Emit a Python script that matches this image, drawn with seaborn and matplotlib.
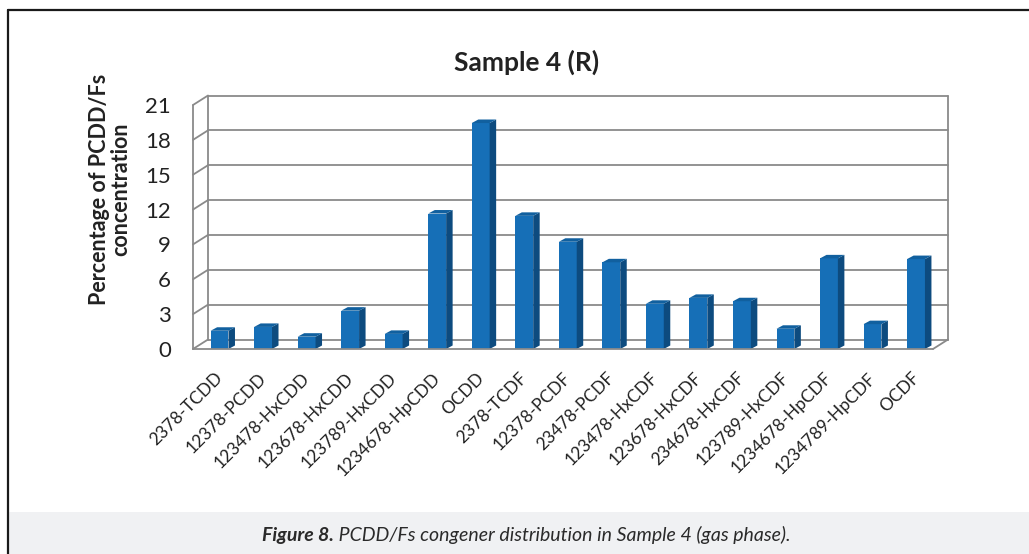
import matplotlib
matplotlib.use("Agg")
import matplotlib.pyplot as plt
import matplotlib.transforms as mtransforms
from matplotlib.patches import Polygon, Rectangle
from matplotlib.lines import Line2D
import seaborn as sns
import pandas as pd

categories = ["2378-TCDD", "12378-PCDD", "123478-HxCDD", "123678-HxCDD",
              "123789-HxCDD", "1234678-HpCDD", "OCDD", "2378-TCDF",
              "12378-PCDF", "23478-PCDF", "123478-HxCDF", "123678-HxCDF",
              "234678-HxCDF", "123789-HxCDF", "1234678-HpCDF",
              "1234789-HpCDF", "OCDF"]
values = [1.57, 1.9, 1.06, 3.3, 1.3, 11.66, 19.45, 11.46, 9.23, 7.46,
          3.89, 4.4, 4.11, 1.74, 7.8, 2.14, 7.74]
yticks = [0, 3, 6, 9, 12, 15, 18, 21]
title = "Sample 4 (R)"
ylabel = "Percentage of PCDD/Fs\nconcentration"
caption_bold = "Figure 8."
caption_rest = " PCDD/Fs congener distribution in Sample 4 (gas phase)."

sns.set_theme(style="white")
plt.rcParams["font.family"] = ["Lato", "DejaVu Sans"]

W, H = 1029, 554
fig = plt.figure(figsize=(W / 100, H / 100), dpi=100)
fig.patch.set_facecolor("white")

# caption band and frame
fig.patches.append(Rectangle((9 / W, 0), 1 - 9 / W, 42 / H, transform=fig.transFigure,
                             facecolor="#f0f1f3", edgecolor="none", zorder=0))
fig.add_artist(Line2D([8 / W, 8 / W], [0, 1 - 10 / H], transform=fig.transFigure,
                      color="#1a1a1a", lw=1.6))
fig.add_artist(Line2D([8 / W, 1], [1 - 10 / H, 1 - 10 / H], transform=fig.transFigure,
                      color="#1a1a1a", lw=1.6))

left, right, top, bottom = 193, 933, 105, 349
ax = fig.add_axes([left / W, 1 - bottom / H, (right - left) / W, (bottom - top) / H])
ax.set_facecolor("none")

df = pd.DataFrame({"cat": categories, "val": values})
sns.barplot(data=df, x="cat", y="val", color="#166fb7", saturation=1, width=0.41,
            ax=ax, zorder=3, edgecolor="none")

x0, x1 = -0.61, 16.39
ax.set_xlim(x0, x1)
ax.set_ylim(0, 21)
for s in ax.spines.values():
    s.set_visible(False)

# 3D-like frame
grid_c = "#8a8a8a"
dxw = 15 / ((right - left) / (x1 - x0))
dyw = 9.5 / ((bottom - top) / 21)
kw = dict(color=grid_c, lw=1.3, clip_on=False, zorder=1, solid_capstyle="round")
for v in yticks:
    ax.plot([x0 + dxw, x1 + dxw], [v + dyw, v + dyw], **kw)
    ax.plot([x0, x0 + dxw], [v, v + dyw], **kw)
ax.plot([x0, x0], [0, 21], **kw)
ax.plot([x0 + dxw, x0 + dxw], [dyw, 21 + dyw], **kw)
ax.plot([x1 + dxw, x1 + dxw], [dyw, 21 + dyw], **kw)
ax.plot([x0, x1], [0, 0], color=grid_c, lw=1.3, clip_on=False, zorder=4)
ax.plot([x1, x1 + dxw], [0, dyw], color=grid_c, lw=1.3, clip_on=False, zorder=4)

# bar sides and tops
bdx = 6.5 / ((right - left) / (x1 - x0))
bdy = 3.5 / ((bottom - top) / 21)
for p in list(ax.patches):
    bx, bw, bh = p.get_x(), p.get_width(), p.get_height()
    ax.add_patch(Polygon([(bx + bw, 0), (bx + bw + bdx, bdy), (bx + bw + bdx, bh + bdy),
                          (bx + bw, bh)], closed=True, facecolor="#0d4b7f",
                         edgecolor="none", zorder=3))
    ax.add_patch(Polygon([(bx, bh), (bx + bdx, bh + bdy), (bx + bw + bdx, bh + bdy),
                          (bx + bw, bh)], closed=True, facecolor="#11609f",
                         edgecolor="none", zorder=3))

ax.set_yticks(yticks)
ax.set_yticklabels([str(t) for t in yticks], fontsize=16, color="#222222")
ax.tick_params(axis="y", length=0, pad=16)
ax.set_xticks(range(len(categories)))
ax.set_xticklabels(categories, rotation=45, ha="right", rotation_mode="anchor",
                   fontsize=12.5, color="#222222")
ax.tick_params(axis="x", length=0, pad=15)
offset = mtransforms.ScaledTranslation(-5 / 100, 0, fig.dpi_scale_trans)
for lab in ax.get_xticklabels():
    lab.set_transform(lab.get_transform() + offset)
ax.set_xlabel("")
ax.set_ylabel("")

fig.text(110 / W, 1 - 189 / H, ylabel, rotation=90, ha="center", va="center",
         fontsize=15.5, fontweight="bold", color="#222222", linespacing=1.05)
fig.text(527 / W, 1 - 62 / H, title, ha="center", va="center", fontsize=19,
         fontweight="bold", color="#222222")

# caption
fig.canvas.draw()
r = fig.canvas.get_renderer()
t1 = fig.text(0, 1 - 535 / H, caption_bold, ha="left", va="center", fontsize=14,
              fontweight="bold", fontstyle="italic", color="#2a2a2a")
t2 = fig.text(0, 1 - 535 / H, caption_rest, ha="left", va="center", fontsize=14,
              fontstyle="italic", color="#2a2a2a")
w1 = t1.get_window_extent(r).width
w2 = t2.get_window_extent(r).width
start = 526 - (w1 + w2) / 2
t1.set_x(start / W)
t2.set_x((start + w1) / W)

fig.savefig("out.png", dpi=100)
